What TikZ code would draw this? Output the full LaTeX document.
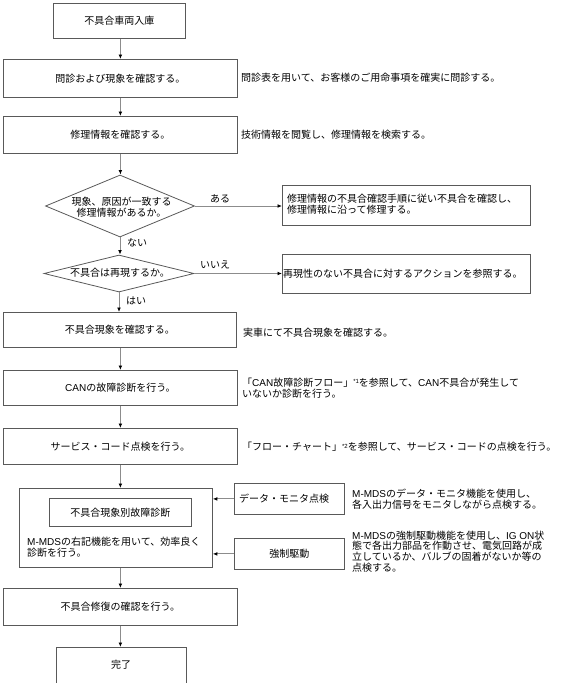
\documentclass[tikz,border=0pt]{standalone}
\usepackage{fontspec}
\setmainfont{Noto Sans CJK JP}
\newfontfamily\lat{Liberation Sans}
\usetikzlibrary{arrows.meta,shapes.geometric}
\begin{document}
\begin{tikzpicture}[x=1pt,y=-1pt,
  box/.style={draw=black!65,line width=0.8pt,inner sep=0pt,anchor=north west,
    font=\fontsize{10}{10.6}\selectfont},
  dia/.style={draw=black!65,line width=0.8pt,diamond,inner sep=0pt},
  txt/.style={font=\fontsize{10}{10.6}\selectfont,inner sep=0pt,align=left},
  conn/.style={draw=black!45,line width=1pt,-{Latex[length=4.5pt,width=3.8pt,color=black]}}]
\useasboundingbox (0,0) rectangle (572,683);
\clip (0,0) rectangle (572,683);
% main column
\node[box,minimum width=132pt,minimum height=35pt] (b1) at (53,3) {不具合車両入庫};
\node[box,minimum width=234pt,minimum height=38pt] (b2) at (3,59) {問診および現象を確認する。};
\node[box,minimum width=234pt,minimum height=37pt] (b3) at (3,116) {修理情報を確認する。};
\node[dia,minimum width=149pt,minimum height=62pt] (d1) at (120,206) {};
\node[txt,align=center] (d1t) at (121.5,207) {現象、原因が一致する\\修理情報があるか。};
\node[dia,minimum width=150pt,minimum height=37pt] (d2) at (119,273.5) {};
\node[txt] (d2t) at (120,273) {不具合は再現するか。};
\node[box,minimum width=233pt,minimum height=35pt] (b4) at (3,312) {不具合現象を確認する。};
\node[box,minimum width=234pt,minimum height=35pt] (b5) at (3,370) {{\lat CAN}の故障診断を行う。};
\node[box,minimum width=234pt,minimum height=36pt] (b6) at (3,428) {サービス・コード点検を行う。};
\node[box,minimum width=193pt,minimum height=79pt] (b7) at (19,488) {};
\node[box,minimum width=142pt,minimum height=28pt] (b7i) at (49,498) {不具合現象別故障診断};
\node[txt,anchor=west] (b7t) at (27,547.5) {{\lat M-MDS}の右記機能を用いて、効率良く\\診断を行う。};
\node[box,minimum width=234pt,minimum height=37pt] (b8) at (3,588) {不具合修復の確認を行う。};
\node[box,minimum width=130pt,minimum height=40pt] (b9) at (56,647) {};
\node[txt] (b9t) at (121,665) {完了};
% right boxes
\node[box,minimum width=248pt,minimum height=40pt] (r1) at (282,185) {};
\node[txt,anchor=west] (r1t) at (287,204.5) {修理情報の不具合確認手順に従い不具合を確認し、\\修理情報に沿って修理する。};
\node[box,minimum width=248pt,minimum height=39pt] (r2) at (282,254) {};
\node[txt,anchor=west] (r2t) at (283,273.5) {再現性のない不具合に対するアクションを参照する。};
\node[box,minimum width=110pt,minimum height=31pt] (dm) at (234,483) {};
\node[txt,anchor=west] (dmt) at (239,498.5) {データ・モニタ点検};
\node[box,minimum width=110pt,minimum height=31pt] (fd) at (234,538) {強制駆動};
% side notes
\node[txt,anchor=west] (n2) at (241,78) {問診表を用いて、お客様のご用命事項を確実に問診する。};
\node[txt,anchor=west] (n3) at (241,135) {技術情報を閲覧し、修理情報を検索する。};
\node[txt,anchor=west] (n4) at (243,333) {実車にて不具合現象を確認する。};
\node[txt,anchor=west] (n5) at (242,388) {「{\lat CAN}故障診断フロー」{\lat\raisebox{2.5pt}{\fontsize{6}{6}\selectfont *1}}を参照して、{\lat CAN}不具合が発生して\\いないか診断を行う。};
\node[txt,anchor=west] (n6) at (242,447) {「フロー・チャート」{\lat\raisebox{2.5pt}{\fontsize{6}{6}\selectfont *2}}を参照して、サービス・コードの点検を行う。};
\node[txt,anchor=west] (n7) at (352,499) {{\lat M-MDS}のデータ・モニタ機能を使用し、\\各入出力信号をモニタしながら点検する。};
\node[txt,anchor=west] (n8) at (352,551.5) {{\lat M-MDS}の強制駆動機能を使用し、{\lat IG ON}状\\態で各出力部品を作動させ、電気回路が成\\立しているか、バルブの固着がないか等の\\点検する。};
% labels
\node[txt] (l1) at (220,199) {ある};
\node[txt] (l2) at (215,265) {いいえ};
\node[txt] (l3) at (137,243) {ない};
\node[txt] (l4) at (136,301) {はい};
% connectors
\draw[conn] (b1.south -| b2.north) -- (b2.north);
\draw[conn] (b2.south) -- (b3.north);
\draw[conn] (b3.south) -- (b3.south |- d1.north);
\draw[conn] (d1.south) -- (d1.south |- d2.north);
\draw[conn] (d1.east) -- (d1.east -| r1.west);
\draw[conn] (d2.east) -- (d2.east -| r2.west);
\draw[conn] (d2.south) -- (d2.south |- b4.north);
\draw[conn] (b4.south -| b5.north) -- (b5.north);
\draw[conn] (b5.south) -- (b6.north);
\draw[conn] (b6.south) -- (b6.south |- b7.north);
\draw[conn] (dm.west) -- (dm.west -| b7.east);
\draw[conn] (fd.west) -- (fd.west -| b7.east);
\draw[conn] (b7.south -| b8.north) -- (b8.north);
\draw[conn] (b8.south) -- (b8.south |- b9.north);
\end{tikzpicture}
\end{document}
